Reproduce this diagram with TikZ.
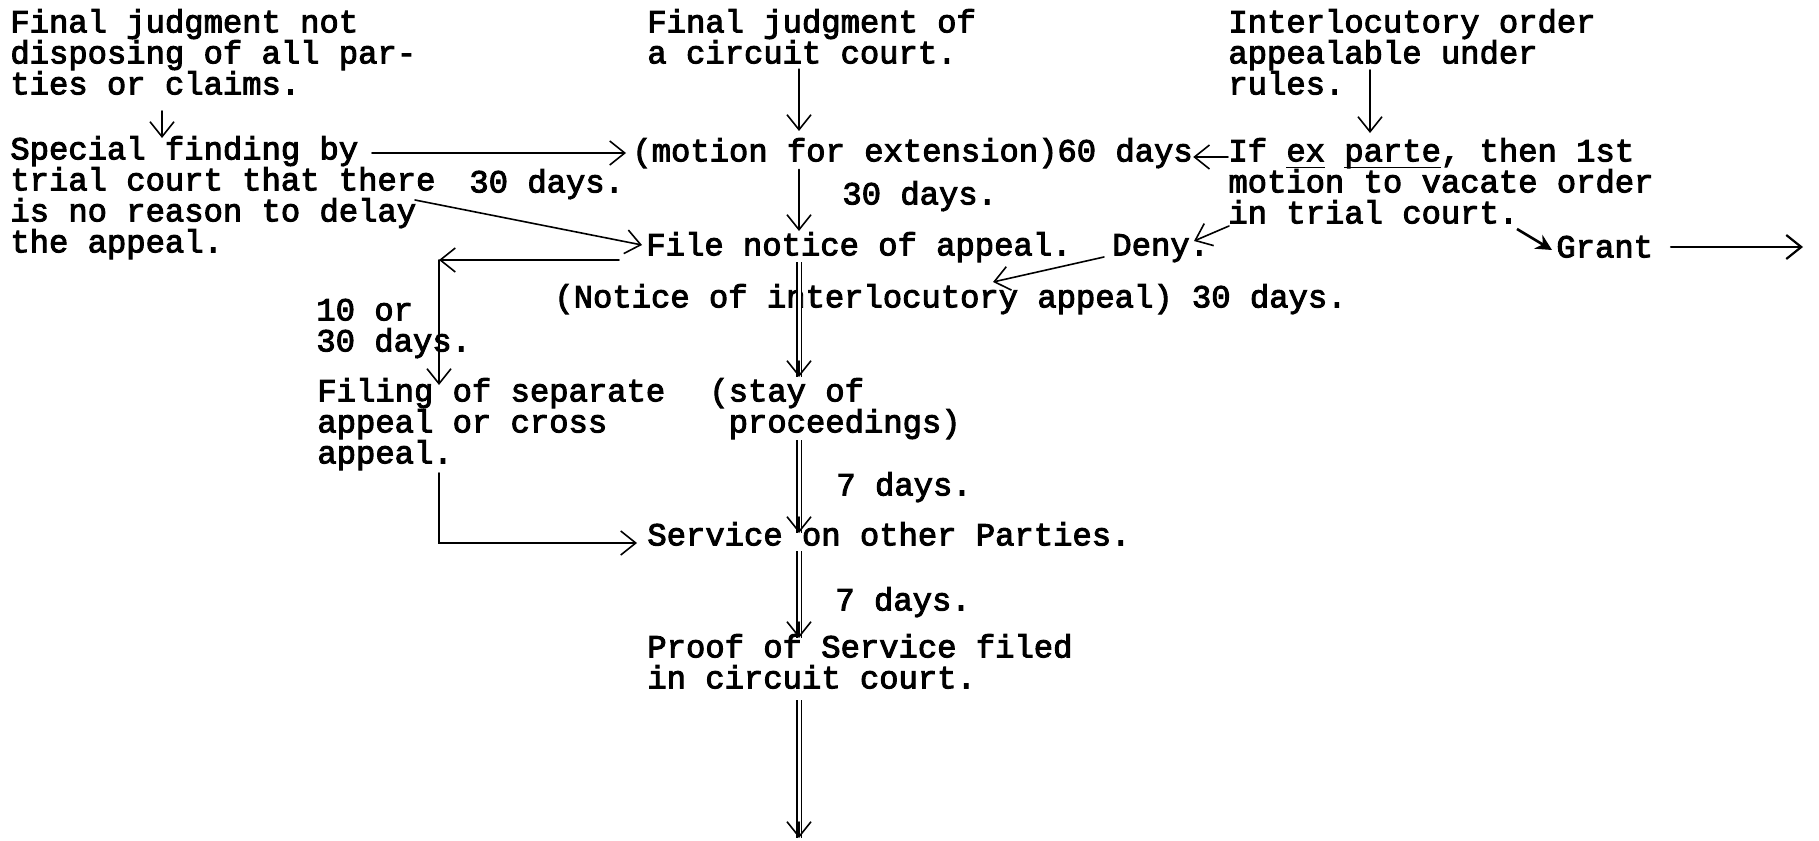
\documentclass[tikz,border=0pt]{standalone}
\usepackage{fontspec}
\newfontfamily\tw{Liberation Mono}[FakeBold=3]
\usetikzlibrary{arrows.meta,calc}
\newcommand\tp{\rule{0pt}{12pt}}
\newcommand\ulw[1]{\setbox0\hbox{#1}\rlap{\rule[-3.4pt]{\wd0}{0.7pt}}\box0\relax}
\begin{document}
\begin{tikzpicture}[x=0.5pt,y=-0.5pt,
  txt/.style={anchor=north west,inner sep=0pt,align=left,font=\tw\fontsize{16.1pt}{15.5pt}\selectfont},
  ln/.style={line width=0.8pt,line cap=round},
  arr/.style={ln,-{Straight Barb[length=7.5pt,width=12pt]}},
  heavy/.style={line width=1.3pt,-{Stealth[length=8pt,width=8pt]}},
  dbl/.style={double,double distance=1.5pt,line width=0.55pt}]
\fill[white] (0,0) rectangle (1819,840);
\useasboundingbox (0,0) rectangle (1819,840);
% trunk x
\coordinate (tx) at (799,0);
% texts
\node[txt] (n1) at (10,8) {\tp Final judgment not\\disposing of all par-\\ties or claims.};
\node[txt] (n2) at (647,8) {\tp Final judgment of\\a circuit court.};
\node[txt] (n3) at (1228,8) {\tp Interlocutory order\\appealable under\\rules.};
\node[txt] (sp) at (10,135) {\tp Special finding by\\trial court that there\\is no reason to delay\\the appeal.};
\node[txt] (d30a) at (469,168) {\tp 30 days.};
\node[txt] (mot) at (632,137) {\tp (motion for extension)60 days};
\node[txt] (exp) at (1228,137) {\tp If \ulw{ex} \ulw{parte}, then 1st\\motion to vacate order\\in trial court.};
\node[txt] (d30b) at (842,180) {\tp 30 days.};
\node[txt] (file) at (646,231) {\tp File notice of appeal.};
\node[txt] (deny) at (1112,231) {\tp Deny.};
\node[txt] (grant) at (1556,233) {\tp Grant};
\node[txt] (noti) at (554,283) {\tp (Notice of interlocutory appeal) 30 days.};
\node[txt] (d1030) at (316,296) {\tp 10 or\\30 days.};
\node[txt] (filing) at (317,377) {\tp Filing of separate\\appeal or cross\\appeal.};
\node[txt] (stay) at (709,377) {\tp (stay of\\~proceedings)};
\node[txt] (d7a) at (836,471) {\tp 7 days.};
\node[txt] (serv) at (647,521) {\tp Service on other Parties.};
\node[txt] (d7b) at (835,586) {\tp 7 days.};
\node[txt] (proof) at (647,633) {\tp Proof of Service filed\\in circuit court.};
% connector points
\coordinate (pA0) at (162,111); \coordinate (pA1) at (162,138);
\coordinate (pB0) at (372,153); \coordinate (pB1) at (626,153);
\coordinate (pC0) at (415,200); \coordinate (pC1) at (642,245);
\coordinate (pF0) at (1228,157);
\coordinate (pG0) at (1370,70);
\coordinate (pH0) at (1229,226); \coordinate (pH1) at (1194,241);
\coordinate (pI0) at (1517,229); \coordinate (pI1) at (1552,250);
\coordinate (pJ0) at (1671,247); \coordinate (pJ1) at (1803,247);
\coordinate (pK0) at (1104,257); \coordinate (pK1) at (993,282);
\coordinate (pL0) at (619,260); \coordinate (pL1) at (439,260); \coordinate (pL2) at (439,385);
\coordinate (pO0) at (439,473); \coordinate (pO1) at (439,543); \coordinate (pO2) at (637,543);
\coordinate (pM1) at (799,377);
\coordinate (pN0) at (799,440); \coordinate (pN1) at (799,533);
\coordinate (pP0) at (799,551); \coordinate (pP1) at (799,638);
\coordinate (pQ0) at (799,700); \coordinate (pQ1) at (799,838);
% connectors
\draw[arr] (pA0) -- (pA1);
\draw[arr] (pB0) -- (pB1);
\draw[arr] (pC0) -- (pC1);
\draw[arr,shorten <=2.5pt,shorten >=3pt] (n2.south -| tx) -- (mot.north -| tx);
\draw[arr,shorten <=0.5pt] (mot.south -| tx) -- (file.north -| tx);
\draw[arr] (pF0) -- (mot.east |- pF0);
\draw[arr,shorten >=2pt] (pG0) -- (exp.north -| pG0);
\draw[arr] (pH0) -- (pH1);
\draw[heavy] (pI0) -- (pI1);
\draw[arr,line width=1.1pt] (pJ0) -- (pJ1);
\draw[arr] (pK0) -- (pK1);
\draw[arr] (pL0) -- (pL1);
\draw[arr] (pL1) -- (pL2);
\draw[arr] (pO0) -- (pO1) -- (pO2);
% double shafts
\draw[dbl] (file.south -| tx) -- (pM1);
\draw[arr] ($(pM1)+(0,-16)$) -- (pM1);
\draw[dbl] (pN0) -- (pN1);
\draw[arr] ($(pN1)+(0,-16)$) -- (pN1);
\draw[dbl] (pP0) -- (pP1);
\draw[arr] ($(pP1)+(0,-16)$) -- (pP1);
\draw[dbl] (pQ0) -- (pQ1);
\draw[arr] ($(pQ1)+(0,-16)$) -- (pQ1);
\end{tikzpicture}
\end{document}
